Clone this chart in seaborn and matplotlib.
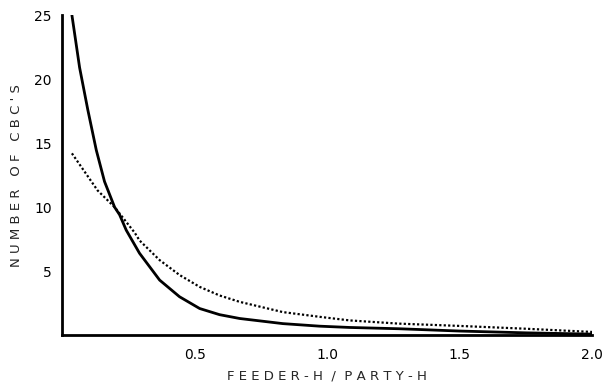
import pandas as pd
import numpy as np
import matplotlib.pyplot as plt
import seaborn as sns

# Values
solid_x = [0.037, 0.066, 0.097, 0.129, 0.160, 0.198, 0.217, 0.242, 0.292, 0.368,
           0.443, 0.519, 0.594, 0.670, 0.833, 0.972, 1.085, 1.27, 1.50, 1.75, 2.0]
solid_y = [25.0, 20.9, 17.6, 14.45, 12.0, 10.0, 9.4, 8.2, 6.4, 4.3,
           3.0, 2.08, 1.6, 1.3, 0.9, 0.7, 0.6, 0.5, 0.32, 0.18, 0.08]

dotted_x = [0.037, 0.134, 0.198, 0.274, 0.292, 0.368, 0.443, 0.519, 0.594, 0.670,
            0.833, 0.972, 1.085, 1.27, 1.50, 1.75, 2.0]
dotted_y = [14.2, 11.3, 10.0, 8.0, 7.4, 5.86, 4.7, 3.77, 3.1, 2.6,
            1.8, 1.43, 1.15, 0.9, 0.72, 0.5, 0.25]

x_ticks = [0.5, 1.0, 1.5, 2.0]
x_tick_labels = ['0.5', '1.0', '1.5', '2.0']
y_ticks = [5, 10, 15, 20, 25]

solid = pd.DataFrame({'ratio': solid_x, 'cbc': solid_y})
dotted = pd.DataFrame({'ratio': dotted_x, 'cbc': dotted_y})

sns.set_style('white')
plt.rcParams['font.family'] = ['DejaVu Sans']

fig = plt.figure(figsize=(6.03, 3.87), dpi=100)
ax = fig.add_axes([0.103, 0.134, 0.879, 0.827])

sns.lineplot(data=solid, x='ratio', y='cbc', ax=ax, color='black', linewidth=2,
             solid_joinstyle='round', solid_capstyle='round')
sns.lineplot(data=dotted, x='ratio', y='cbc', ax=ax, color='black', linewidth=1.6,
             linestyle=(0, (1, 1)))

ax.set_xlim(0, 2.0)
ax.set_ylim(0, 25)
ax.set_xticks(x_ticks)
ax.set_xticklabels(x_tick_labels)
ax.set_yticks(y_ticks)
ax.tick_params(axis='both', direction='out', length=4, width=1.5, labelsize=10,
               color='black', labelcolor='black')
ax.tick_params(axis='x', pad=5)

for side in ['top', 'right']:
    ax.spines[side].set_visible(False)
for side in ['left', 'bottom']:
    ax.spines[side].set_linewidth(2)
    ax.spines[side].set_color('black')

ax.set_xlabel('F E E D E R - H  /  P A R T Y - H', fontsize=9.5, labelpad=6)
ax.set_ylabel("N U M B E R   O F   C B C ' S", fontsize=9.5, labelpad=8)

plt.savefig('out.png', dpi=100)
